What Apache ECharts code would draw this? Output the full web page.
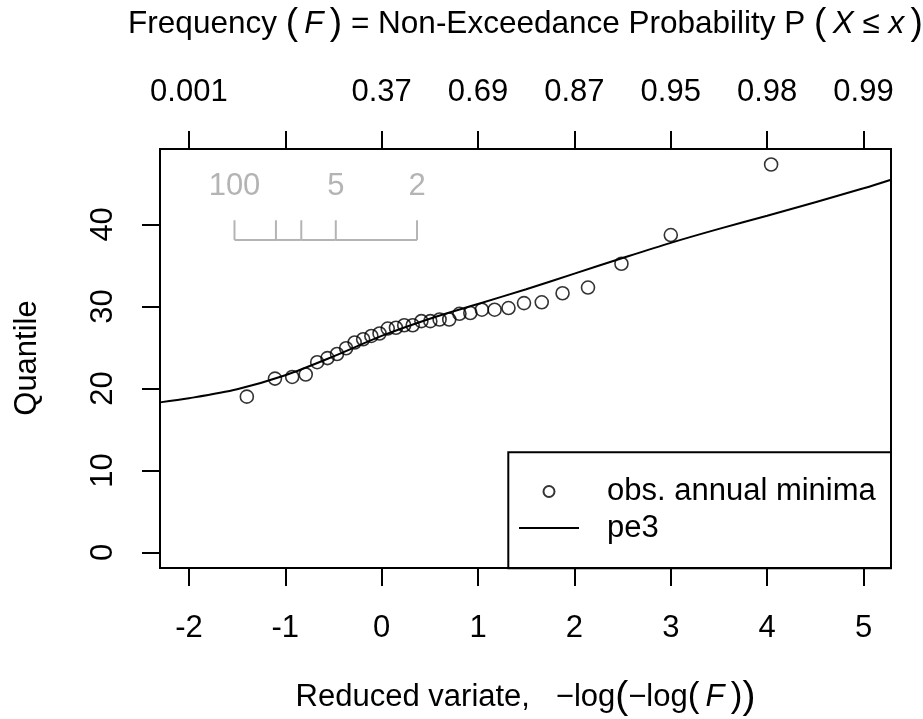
<!DOCTYPE html>
<html><head><meta charset="utf-8">
<script src="https://cdn.jsdelivr.net/npm/echarts@6/dist/echarts.min.js"></script>
<style>html,body{margin:0;padding:0;background:#fff}#c{width:923px;height:719px}</style>
</head><body><div id="c"></div>
<script>
// ---- data ----
const reducedVariate = [-1.399,-1.107,-0.928,-0.788,-0.669,-0.562,-0.463,-0.369,-0.280,-0.192,-0.107,-0.022,0.063,0.148,0.234,0.322,
  0.412,0.505,0.601,0.701,0.807,0.920,1.040,1.172,1.316,1.477,1.661,1.877,2.141,2.488,3.000,4.041];
const obsMinima = [19.0,21.2,21.4,21.7,23.2,23.7,24.2,24.9,25.6,26.0,26.4,26.7,27.3,27.4,27.7,27.7,
  28.2,28.2,28.4,28.4,29.1,29.2,29.6,29.6,29.8,30.4,30.5,31.6,32.3,35.2,38.7,47.3];
const curveX = [-2.3,-2.0,-1.5,-1.0,-0.5,0,0.5,1.0,1.5,2.0,2.5,3.0,3.5,4.0,4.5,5.0,5.285];
const curveY = [18.3,18.8,19.9,21.6,23.9,26.4,28.5,30.3,32.1,34.0,35.9,37.75,39.45,41.05,42.7,44.4,45.45];
const xTicks = [-2,-1,0,1,2,3,4,5];
const topTickLabels = ['0.001','','0.37','0.69','0.87','0.95','0.98','0.99'];
const yTicks = [0,10,20,30,40];
const returnPeriodX = [-1.527,-1.097,-0.834,-0.476,0.367];
const returnPeriodLabels = ['100','','','5','2'];

// ---- style ----
const FONT = "'Liberation Sans', Arial, sans-serif";
const GRAY = '#b4b4b4';
const insetBaseY = 38.1, insetTickY = 40.5, insetLabelY = 44.9;

const chart = echarts.init(document.getElementById('c'), null, {renderer:'canvas'});
const axisCommon = {
  type:'value', splitLine:{show:false}, axisLine:{show:false, onZero:false},
  axisTick:{show:true, length:18, lineStyle:{color:'#000', width:2}},
  axisLabel:{color:'#000', fontSize:31, fontFamily:FONT, verticalAlign:'middle'}
};
chart.setOption({
  animation:false,
  backgroundColor:'#fff',
  grid:{left:160, right:32, top:149, bottom:151, show:true, borderColor:'#000', borderWidth:2, backgroundColor:'transparent'},
  xAxis:[
    Object.assign({}, axisCommon, {position:'bottom', min:-2.3, max:5.285,
      axisTick:Object.assign({}, axisCommon.axisTick, {customValues:xTicks}),
      axisLabel:Object.assign({}, axisCommon.axisLabel, {customValues:xTicks, margin:60, formatter:v=>String(v)})}),
    Object.assign({}, axisCommon, {position:'top', min:-2.3, max:5.285,
      axisTick:Object.assign({}, axisCommon.axisTick, {customValues:xTicks}),
      axisLabel:Object.assign({}, axisCommon.axisLabel, {customValues:xTicks, margin:57,
        formatter:v=>{const i=xTicks.indexOf(Math.round(v)); return i>=0?topTickLabels[i]:'';}})})
  ],
  yAxis:[
    Object.assign({}, axisCommon, {position:'left', min:-1.892, max:49.19,
      axisTick:Object.assign({}, axisCommon.axisTick, {customValues:yTicks}),
      axisLabel:Object.assign({}, axisCommon.axisLabel, {customValues:yTicks, margin:57, rotate:90, align:'center'})})
  ],
  legend:{
    orient:'vertical', left:518, top:476, padding:0, itemWidth:60, itemHeight:11, itemGap:5.6,
    selectedMode:false,
    textStyle:{fontSize:31, fontFamily:FONT, color:'#000', lineHeight:31, padding:[0,0,0,23]},
    data:[{name:'obs. annual minima'},{name:'pe3'}]
  },
  graphic:[
    {type:'rect', silent:true, z:1, shape:{x:508.3, y:452.3, width:382.7, height:116}, style:{fill:'none', stroke:'#000', lineWidth:2}},
    {type:'text', silent:true, x:525.5, y:24, style:{
      text:'{n|Frequency }{p|(}{i|\u2009F\u2009}{p|)}{n| = Non-Exceedance Probability P }{p|(}{i|\u2009X}{n| ≤ }{i|x\u2009}{p|)}',
      align:'center', verticalAlign:'middle',
      rich:{n:{fontSize:31.5, fontFamily:FONT, fill:'#000'}, i:{fontSize:31.5, fontFamily:FONT, fontStyle:'italic', fill:'#000'},
            p:{fontSize:37, fontFamily:FONT, fill:'#000'}}}},
    {type:'text', silent:true, x:525.5, y:697, style:{
      text:'{n|Reduced variate,   −log}{p|(}{n|−log}{q|(}{i|\u2009F\u2009}{q|)}{p|)}',
      align:'center', verticalAlign:'middle',
      rich:{n:{fontSize:31, fontFamily:FONT, fill:'#000'}, i:{fontSize:31, fontFamily:FONT, fontStyle:'italic', fill:'#000'},
            p:{fontSize:39, fontFamily:FONT, fill:'#000'}, q:{fontSize:35, fontFamily:FONT, fill:'#000'}}}},
    {type:'text', silent:true, x:27.5, y:358, rotation:Math.PI/2, style:{
      text:'Quantile', align:'center', verticalAlign:'middle', fontSize:31, fontFamily:FONT, fill:'#000'}}
  ],
  series:[
    {name:'obs. annual minima', type:'scatter', symbol:'circle', symbolSize:13,
     itemStyle:{color:'rgba(0,0,0,0)', borderColor:'#000', borderWidth:1.6},
     emphasis:{disabled:true}, z:3,
     data:reducedVariate.map((x,i)=>[x, obsMinima[i]])},
    {name:'pe3', type:'line', symbol:'none', smooth:0.3,
     lineStyle:{color:'#000', width:2}, itemStyle:{color:'rgba(0,0,0,0)', borderWidth:0},
     emphasis:{disabled:true}, z:2,
     data:curveX.map((x,i)=>[x, curveY[i]])},
    {name:'inset', type:'custom', silent:true, z:2,
     data:returnPeriodX.map((x,i)=>[x,i]),
     renderItem:function(params, api){
       const x = api.value(0), i = api.value(1);
       const p0 = api.coord([x, insetBaseY]), p1 = api.coord([x, insetTickY]);
       const children = [{type:'line', shape:{x1:p0[0], y1:p0[1], x2:p1[0], y2:p1[1]}, style:{stroke:GRAY, lineWidth:2}}];
       if (i < returnPeriodX.length-1) {
         const p2 = api.coord([returnPeriodX[i+1], insetBaseY]);
         children.push({type:'line', shape:{x1:p0[0], y1:p0[1], x2:p2[0], y2:p2[1]}, style:{stroke:GRAY, lineWidth:2}});
       }
       if (returnPeriodLabels[i]) {
         const pt = api.coord([x, insetLabelY]);
         children.push({type:'text', style:{text:returnPeriodLabels[i], x:pt[0], y:pt[1]+2, fill:GRAY,
           font:"31px 'Liberation Sans', Arial, sans-serif", align:'center', verticalAlign:'middle'}});
       }
       return {type:'group', children:children};
     }}
  ]
});
</script></body></html>
